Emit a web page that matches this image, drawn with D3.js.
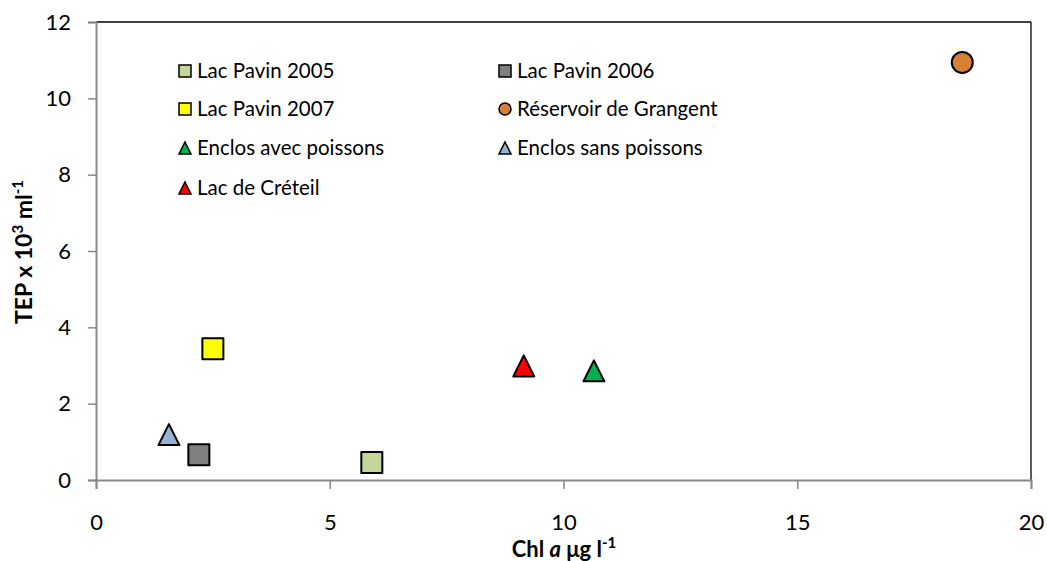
<!DOCTYPE html>
<html><head><meta charset="utf-8">
<script src="https://cdn.jsdelivr.net/npm/d3@7"></script>
<style>body{margin:0;background:#fff}svg{font-family:Lato,"Open Sans",sans-serif}</style>
</head><body><svg id="c" width="1047" height="561"></svg>
<script>
const seriesNames = ["Lac Pavin 2005","Lac Pavin 2006","Lac Pavin 2007","Réservoir de Grangent","Enclos avec poissons","Enclos sans poissons","Lac de Créteil"];
const chlValues = [5.90, 2.20, 2.50, 18.53, 10.65, 1.56, 9.15];
const tepValues = [0.46, 0.66, 3.44, 10.94, 2.86, 1.19, 2.99];
const markerShapes = ["square","square","square","circle","triangle","triangle","triangle"];
const markerColors = ["#c4d79b","#808080","#ffff00","#d58135","#00b050","#95b3d7","#ff0000"];
const xTicks = [0,5,10,15,20];
const yTicks = [0,2,4,6,8,10,12];

const svg = d3.select("#c");
const m = {l:96, r:1031, t:22, b:480};
const x = d3.scaleLinear().domain([0,20]).range([m.l, m.r]);
const y = d3.scaleLinear().domain([0,12]).range([m.b, m.t]);

svg.append("line").attr("x1",m.l).attr("x2",m.r).attr("y1",m.t).attr("y2",m.t).attr("stroke","#000").attr("stroke-width",1.3);
svg.append("line").attr("x1",m.r).attr("x2",m.r).attr("y1",m.t).attr("y2",m.b).attr("stroke","#000").attr("stroke-width",1.3);

const xa = svg.append("g").attr("transform",`translate(0,${m.b})`)
  .call(d3.axisBottom(x).tickValues(xTicks).tickSize(9).tickPadding(25).tickFormat(d3.format("d")));
const ya = svg.append("g").attr("transform",`translate(${m.l},0)`)
  .call(d3.axisLeft(y).tickValues(yTicks).tickSize(8).tickPadding(17).tickFormat(d3.format("d")));
[xa,ya].forEach(a=>{
  a.selectAll("path,line").attr("stroke","#888").attr("stroke-width",1.5);
  a.select(".domain").attr("stroke-width",2);
  a.selectAll("text").attr("font-size",22).attr("fill","#000").attr("font-family","Lato,sans-serif");
});

function sym(shape, size){
  if(shape==="square") return d3.symbol(d3.symbolSquare, size*size)();
  if(shape==="circle") return d3.symbol(d3.symbolCircle, Math.PI*size*size/4)();
  const h=size, w=size;
  return `M0,${-h/2}L${w/2},${h/2}L${-w/2},${h/2}Z`;
}

const pts = seriesNames.map((n,i)=>({n, x:chlValues[i], y:tepValues[i], s:markerShapes[i], c:markerColors[i]}));
svg.append("g").selectAll("path").data(pts).join("path")
  .attr("transform",d=>`translate(${x(d.x)},${y(d.y)})`)
  .attr("d",d=>sym(d.s, 21))
  .attr("fill",d=>d.c).attr("stroke","#000").attr("stroke-width",2).attr("stroke-linejoin","round");

const legPos = [[185,71],[505,71],[185,109],[505,109],[185,148],[505,148],[185,188]];
const lg = svg.append("g").selectAll("g").data(pts).join("g")
  .attr("transform",(d,i)=>`translate(${legPos[i][0]},${legPos[i][1]})`);
lg.append("path").attr("d",d=>sym(d.s,12)).attr("fill",d=>d.c).attr("stroke","#000").attr("stroke-width",1.5);
lg.append("text").attr("x",12).attr("dy","0.35em").attr("font-size",20.5).text(d=>d.n);

const xt = svg.append("text").attr("x",564).attr("y",557).attr("text-anchor","middle").attr("font-size",22).attr("font-weight","bold");
xt.append("tspan").text("Chl ");
xt.append("tspan").attr("font-style","italic").text("a");
xt.append("tspan").text(" μg l");
xt.append("tspan").attr("font-size",15).attr("dy",-9).text("-1");

const yt = svg.append("text").attr("transform","translate(32,252) rotate(-90)").attr("text-anchor","middle").attr("font-size",23).attr("font-weight","bold");
yt.append("tspan").text("TEP x 10");
yt.append("tspan").attr("font-size",15).attr("dy",-9).text("3");
yt.append("tspan").attr("dy",9).text(" ml");
yt.append("tspan").attr("font-size",15).attr("dy",-9).text("-1");
</script></body></html>
